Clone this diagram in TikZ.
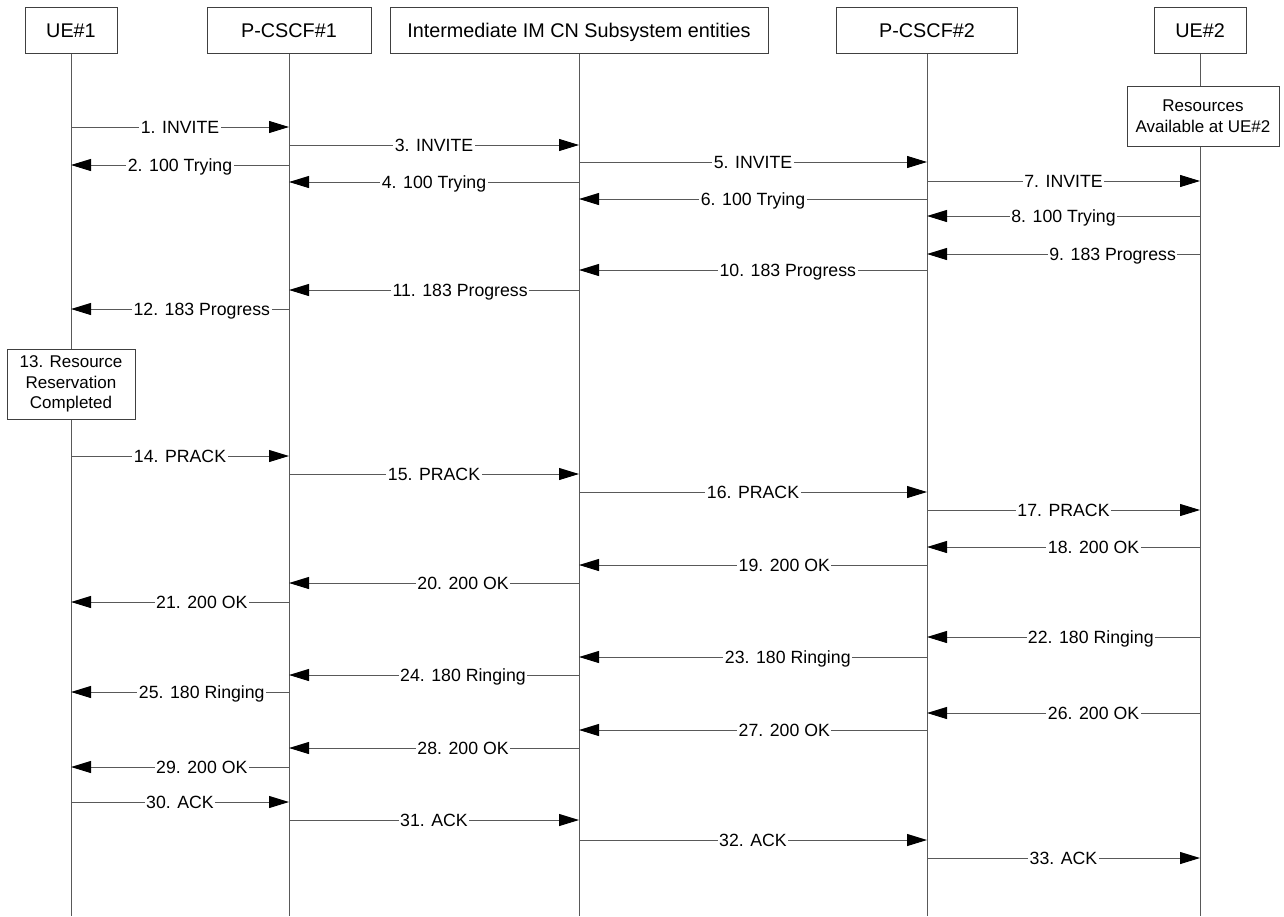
\documentclass[tikz,border=0pt]{standalone}
\usepackage{fontspec}
\setmainfont{Liberation Sans}
\usetikzlibrary{arrows.meta}
\begin{document}
\begin{tikzpicture}[x=1pt,y=-1pt,
  head/.style={draw=black!75,line width=1pt,fill=white,minimum height=46pt,inner sep=0pt,text height=14.2pt,text depth=0pt,font=\fontsize{19.8}{22}\selectfont},
  note/.style={draw=black!75,line width=1pt,fill=white,inner sep=0pt,align=center,font=\fontsize{17}{20.5}\selectfont},
  life/.style={draw=black!65,line width=1pt},
  msg/.style={draw=black!65,line width=1pt,-{Triangle[length=20pt,width=12pt,fill=black,color=black]}},
  lbl/.style={fill=white,inner xsep=1.5pt,inner ysep=1pt,text height=12.6pt,text depth=0pt,font=\fontsize{17.7}{20}\selectfont}
]
\useasboundingbox (0,0) rectangle (1284,916);
% headers
\node[head,minimum width=92pt]  (ue1) at (71,30)  {UE\#1};
\node[head,minimum width=164pt] (pc1) at (289,30) {P-CSCF\#1};
\node[head,minimum width=378pt] (im)  at (579,30) {Intermediate IM CN Subsystem entities};
\node[head,minimum width=181pt] (pc2) at (927,30) {P-CSCF\#2};
\node[head,minimum width=92pt]  (ue2) at (1200,30) {UE\#2};
% notes
\node[note,minimum width=128pt,minimum height=70pt] (n13) at (71,384) {13. Resource\\Reservation\\Completed};
\node[note,minimum width=152pt,minimum height=60pt] (res) at (1203,116) {Resources\\Available at UE\#2};
% bottom ends
\coordinate (ue1b) at (71,916);
\coordinate (pc1b) at (289,916);
\coordinate (imb)  at (579,916);
\coordinate (pc2b) at (927,916);
\coordinate (ue2b) at (1200,916);
% lifelines
\draw[life] (ue1.south) -- (n13.north);
\draw[life] (n13.south) -- (ue1b);
\draw[life] (pc1.south) -- (pc1b);
\draw[life] (im.south) -- (imb);
\draw[life] (pc2.south) -- (pc2b);
\draw[life] (ue2.south) -- (ue2 |- res.north);
\draw[life] (ue2 |- res.south) -- (ue2b);
% messages
\foreach \a/\b/\y/\t/\p in {
  ue1/pc1/127/1. INVITE/0.5,
  pc1/im/145/3. INVITE/0.5,
  pc1/ue1/165/2. 100 Trying/0.5,
  im/pc2/162/5. INVITE/0.5,
  im/pc1/182/4. 100 Trying/0.5,
  pc2/ue2/181/7. INVITE/0.5,
  pc2/im/199/6. 100 Trying/0.5,
  ue2/pc2/216/8. 100 Trying/0.5,
  ue2/pc2/254/9. 183 Progress/0.32,
  pc2/im/270/10. 183 Progress/0.40,
  im/pc1/290/11. 183 Progress/0.41,
  pc1/ue1/309/12. 183 Progress/0.40,
  ue1/pc1/456/14. PRACK/0.5,
  pc1/im/474/15. PRACK/0.5,
  im/pc2/492/16. PRACK/0.5,
  pc2/ue2/510/17. PRACK/0.5,
  ue2/pc2/547/18. 200 OK/0.39,
  pc2/im/565/19. 200 OK/0.41,
  im/pc1/583/20. 200 OK/0.40,
  pc1/ue1/602/21. 200 OK/0.40,
  ue2/pc2/637/22. 180 Ringing/0.40,
  pc2/im/657/23. 180 Ringing/0.40,
  im/pc1/675/24. 180 Ringing/0.40,
  pc1/ue1/692/25. 180 Ringing/0.40,
  ue2/pc2/713/26. 200 OK/0.39,
  pc2/im/730/27. 200 OK/0.41,
  im/pc1/748/28. 200 OK/0.40,
  pc1/ue1/767/29. 200 OK/0.40,
  ue1/pc1/802/30. ACK/0.5,
  pc1/im/820/31. ACK/0.5,
  im/pc2/840/32. ACK/0.5,
  pc2/ue2/858/33. ACK/0.5}
{
  \draw[msg] (\a |- 0,\y) -- node[lbl,pos=\p] {\t} (\b |- 0,\y);
}
\end{tikzpicture}
\end{document}
